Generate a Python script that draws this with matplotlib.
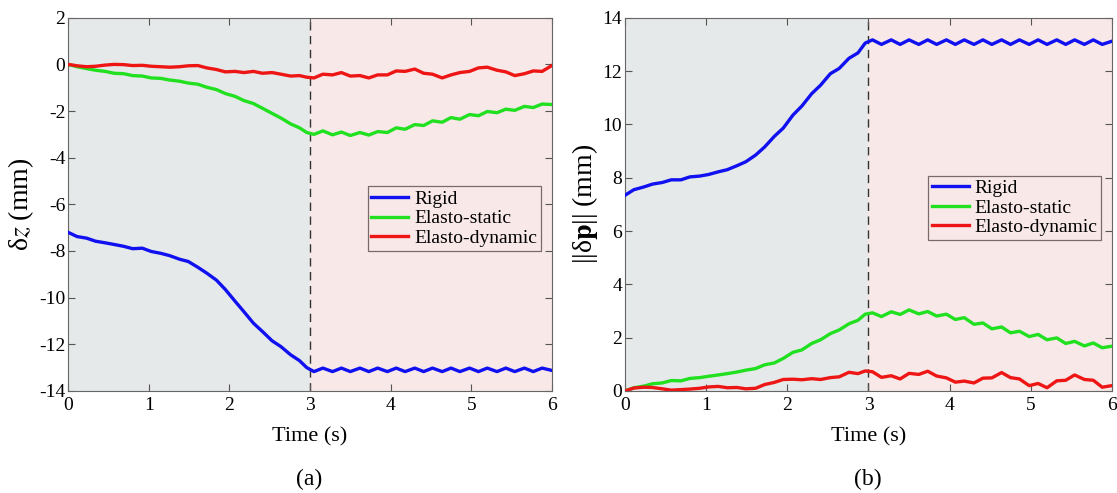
import matplotlib
matplotlib.use("Agg")
import matplotlib.pyplot as plt

plt.rcParams["font.family"] = ["Liberation Serif", "DejaVu Serif"]
plt.rcParams["mathtext.fontset"] = "stix"

# time samples (s), roughly at the peaks/troughs of the wiggles
t = [0.00, 0.11, 0.23, 0.34, 0.46, 0.57, 0.69, 0.80, 0.92, 1.03,
     1.15, 1.26, 1.38, 1.49, 1.61, 1.72, 1.84, 1.95, 2.07, 2.18,
     2.30, 2.41, 2.53, 2.64, 2.76, 2.87, 2.96, 3.05, 3.16, 3.28,
     3.39, 3.50, 3.62, 3.73, 3.84, 3.96, 4.07, 4.18, 4.30, 4.41,
     4.52, 4.64, 4.75, 4.86, 4.98, 5.09, 5.20, 5.32, 5.43, 5.54,
     5.66, 5.77, 5.88, 6.00]

# (a) delta z (mm)
dz_rigid = [-7.20, -7.38, -7.45, -7.58, -7.65, -7.72, -7.80, -7.90, -7.88, -8.02,
            -8.10, -8.20, -8.35, -8.45, -8.70, -8.95, -9.25, -9.65, -10.15, -10.60,
            -11.10, -11.45, -11.85, -12.10, -12.45, -12.70, -13.00, -13.17, -13.02, -13.17,
            -13.02, -13.17, -13.02, -13.17, -13.02, -13.17, -13.02, -13.17, -13.02, -13.17,
            -13.02, -13.17, -13.02, -13.17, -13.02, -13.17, -13.02, -13.17, -13.02, -13.17,
            -13.02, -13.17, -13.02, -13.12]
dz_static = [0.00, -0.10, -0.18, -0.25, -0.30, -0.38, -0.40, -0.48, -0.50, -0.58,
             -0.60, -0.67, -0.72, -0.80, -0.85, -0.98, -1.08, -1.25, -1.37, -1.55,
             -1.68, -1.88, -2.10, -2.30, -2.55, -2.72, -2.92, -3.00, -2.85, -3.02,
             -2.90, -3.05, -2.92, -3.03, -2.88, -2.92, -2.72, -2.78, -2.58, -2.62,
             -2.42, -2.48, -2.28, -2.35, -2.15, -2.20, -2.02, -2.07, -1.92, -1.97,
             -1.80, -1.85, -1.70, -1.72]
dz_dynamic = [0.00, -0.06, -0.10, -0.08, -0.03, 0.00, -0.01, -0.05, -0.04, -0.08,
              -0.10, -0.12, -0.10, -0.06, -0.05, -0.15, -0.22, -0.32, -0.30, -0.35,
              -0.30, -0.38, -0.35, -0.42, -0.50, -0.48, -0.55, -0.58, -0.42, -0.45,
              -0.35, -0.50, -0.48, -0.58, -0.45, -0.45, -0.28, -0.30, -0.20, -0.38,
              -0.42, -0.58, -0.45, -0.35, -0.30, -0.15, -0.12, -0.25, -0.32, -0.48,
              -0.40, -0.28, -0.30, -0.05]

# (b) ||delta p|| (mm)
dp_rigid = [7.34, 7.55, 7.65, 7.76, 7.82, 7.92, 7.92, 8.03, 8.06, 8.12,
            8.22, 8.30, 8.45, 8.60, 8.85, 9.15, 9.55, 9.86, 10.35, 10.69,
            11.15, 11.47, 11.90, 12.10, 12.48, 12.68, 13.05, 13.17, 13.00, 13.17,
            13.00, 13.17, 13.00, 13.17, 13.00, 13.17, 13.00, 13.17, 13.00, 13.17,
            13.00, 13.17, 13.00, 13.17, 13.00, 13.17, 13.00, 13.17, 13.00, 13.17,
            13.00, 13.17, 13.00, 13.12]
dp_static = [0.00, 0.12, 0.18, 0.27, 0.30, 0.39, 0.38, 0.47, 0.50, 0.55,
             0.60, 0.65, 0.71, 0.78, 0.84, 0.98, 1.05, 1.22, 1.45, 1.54,
             1.78, 1.92, 2.15, 2.29, 2.52, 2.65, 2.88, 2.93, 2.79, 2.97,
             2.87, 3.04, 2.89, 2.98, 2.81, 2.88, 2.68, 2.75, 2.50, 2.55,
             2.33, 2.40, 2.18, 2.24, 2.04, 2.12, 1.92, 1.99, 1.78, 1.86,
             1.69, 1.80, 1.62, 1.68]
dp_dynamic = [0.00, 0.11, 0.14, 0.13, 0.08, 0.03, 0.05, 0.07, 0.10, 0.15,
              0.17, 0.12, 0.13, 0.08, 0.10, 0.24, 0.32, 0.43, 0.44, 0.42,
              0.46, 0.43, 0.50, 0.53, 0.70, 0.65, 0.75, 0.72, 0.51, 0.57,
              0.45, 0.66, 0.62, 0.74, 0.56, 0.49, 0.33, 0.37, 0.30, 0.48,
              0.49, 0.69, 0.50, 0.45, 0.20, 0.28, 0.12, 0.38, 0.40, 0.60,
              0.43, 0.40, 0.14, 0.20]

labels = ["Rigid", "Elasto-static", "Elasto-dynamic"]
colors = ["#1010f0", "#20e020", "#ee1515"]

fig = plt.figure(figsize=(11.17, 4.93), dpi=100)
ax1 = fig.add_axes([0.061, 0.207, 0.433, 0.757])
ax2 = fig.add_axes([0.5595, 0.207, 0.436, 0.757])


def style_axes(ax, ylim, yticks, ylabel, legend_top):
    ax.axvspan(0, 3, color="#e6e9e9", zorder=0)
    ax.axvspan(3, 6, color="#f8e8e8", zorder=0)
    ax.axvline(3, color="#333333", lw=1, ls=(0, (6, 4)), zorder=1)
    ax.set_xlim(0, 6)
    ax.set_ylim(*ylim)
    ax.set_xticks(range(7))
    ax.set_yticks(yticks)
    ax.set_yticklabels([str(v) for v in yticks])
    ax.tick_params(direction="in", top=True, right=True, labelsize=14,
                   color="#555555", length=5, pad=2)
    ax.tick_params(axis="x", pad=4)
    for sp in ax.spines.values():
        sp.set_color("#666666")
    ax.set_xlabel("Time (s)", fontsize=16, labelpad=10)
    ax.set_ylabel(ylabel, fontsize=20, labelpad=2)
    leg = ax.legend(loc="upper right", bbox_to_anchor=(0.978, legend_top),
                    fontsize=14, fancybox=False, handlelength=1.9,
                    handletextpad=0.3, borderpad=0.2, labelspacing=0.1,
                    borderaxespad=0)
    leg.get_frame().set_edgecolor("#7a6a6a")
    leg.get_frame().set_facecolor("#f8e8e8")
    leg.get_frame().set_alpha(1)
    leg.get_frame().set_linewidth(0.9)


for ys, lab, c in zip([dz_rigid, dz_static, dz_dynamic], labels, colors):
    ax1.plot(t, ys, color=c, lw=2.4, label=lab, zorder=3)
style_axes(ax1, (-14, 2), list(range(-14, 3, 2)), r"δ$\it{z}$ (mm)", 0.548)

for ys, lab, c in zip([dp_rigid, dp_static, dp_dynamic], labels, colors):
    ax2.plot(t, ys, color=c, lw=2.4, label=lab, zorder=3)
style_axes(ax2, (0, 14), list(range(0, 15, 2)), r"||δ$\mathbf{p}$|| (mm)", 0.577)

fig.text(0.277, 0.027, "(a)", ha="center", va="center", fontsize=17)
fig.text(0.777, 0.027, "(b)", ha="center", va="center", fontsize=17)

fig.savefig("out.png", dpi=100)
